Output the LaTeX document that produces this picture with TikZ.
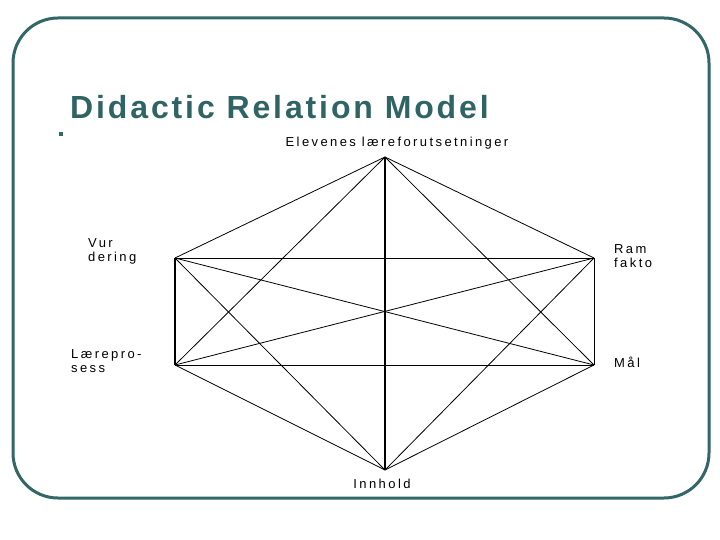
\documentclass[tikz,border=0pt]{standalone}
\usepackage{fontspec}
\setmainfont{Liberation Sans}
\newfontfamily\titlefont[LetterSpace=9]{Liberation Sans}
\newfontfamily\labfont[LetterSpace=18.5]{Liberation Sans}
\definecolor{frameteal}{RGB}{51,102,102}
\definecolor{titleteal}{RGB}{48,100,100}
\tikzset{
  thin edge/.style={draw=black, line width=0.8pt},
  thick edge/.style={draw=black, line width=1.8pt},
  lab/.style={inner sep=0pt, font=\labfont\fontsize{13}{14}\selectfont, text=black},
}
\begin{document}
\begin{tikzpicture}[x=1pt,y=-1pt]
\useasboundingbox (0,0) rectangle (720,540);
% frame
\draw[frameteal, line width=3pt, rounded corners=45pt] (13,18) rectangle (709,498);
% title
\node[anchor=base west, inner sep=0pt, text=titleteal, font=\titlefont\bfseries\fontsize{32}{36}\selectfont] (title) at (70,119) {Didactic Relation Model};
\node[fill=frameteal, inner sep=0pt, minimum size=3.5pt] (bullet) at (61,134) {};
% vertices
\coordinate (T) at (385,157);
\coordinate (UL) at (175,258);
\coordinate (UR) at (594,258);
\coordinate (LL) at (175,365);
\coordinate (LR) at (594,365);
\coordinate (B) at (385,470);
% edges
\draw[thick edge] (T) -- (B);
\draw[thick edge] (UL) -- (LL);
\draw[thin edge] (UR) -- (LR);
\draw[thin edge] (UL) -- (UR);
\draw[thin edge] (LL) -- (LR);
\draw[thin edge] (UL) -- (LR);
\draw[thin edge] (LL) -- (UR);
\draw[thin edge] (T) -- (UL);
\draw[thin edge] (T) -- (UR);
\draw[thin edge] (T) -- (LL);
\draw[thin edge] (T) -- (LR);
\draw[thin edge] (B) -- (UL);
\draw[thin edge] (B) -- (UR);
\draw[thin edge] (B) -- (LL);
\draw[thin edge] (B) -- (LR);
% labels
\node[lab] (lT) at (397,143) {Elevenes læreforutsetninger};
\node[lab] (lB) at (382,484) {Innhold};
\node[lab, anchor=west, align=left] (lUL) at (88,251) {Vur\\dering};
\node[lab, anchor=west, align=left] (lLL) at (71,361) {Lærepro-\\sess};
\node[lab, anchor=west, align=left] (lUR) at (614,256) {Ram\\fakto};
\node[lab, anchor=west] (lLR) at (614,362) {Mål};
\end{tikzpicture}
\end{document}
